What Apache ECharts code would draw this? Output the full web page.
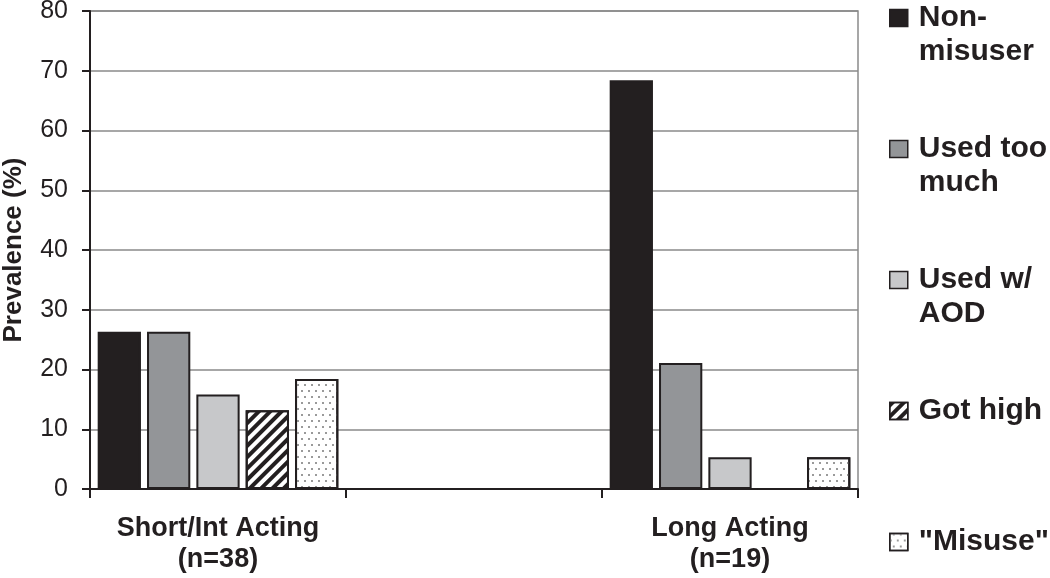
<!DOCTYPE html>
<html>
<head>
<meta charset="utf-8">
<script src="https://cdn.jsdelivr.net/npm/echarts@6/dist/echarts.min.js"></script>
<style>
  html, body { margin: 0; padding: 0; background: #fff; }
  #chart { width: 1050px; height: 578px; }
</style>
</head>
<body>
<div id="chart"></div>
<script>
  // data (percent of n)
  var categories = ['Short/Int Acting\n(n=38)', '', 'Long Acting\n(n=19)'];
  var seriesNames = ['Non-misuser', 'Used too much', 'Used w/ AOD', 'Got high', '"Misuse"'];
  var legendLabels = ['Non-\nmisuser', 'Used too\nmuch', 'Used w/\nAOD', 'Got high', '"Misuse"'];
  var nonMisuser = [26.3, null, 68.4];
  var usedTooMuch = [26.3, null, 21.1];
  var usedWithAod = [15.8, null, 5.3];
  var gotHigh = [13.2, null, 0];
  var misuse = [18.4, null, 5.3];
  var yMin = 0, yMax = 80, yStep = 10;

  var font = "'Liberation Sans', Arial, sans-serif";
  var ink = '#231f20';
  var gridGray = '#8a8a8a';

  var styles = [
    {color: ink},
    {color: '#939598'},
    {color: '#c7c8ca'},
    {color: '#ffffff', decal: {symbol: 'rect', dashArrayX: [1, 0], dashArrayY: [3.5, 3.5], rotation: -Math.PI / 4, color: ink}},
    {color: '#ffffff', decal: {symbol: 'rect', symbolSize: 1, dashArrayX: [[2, 5], [0, 3, 2, 2]], dashArrayY: [2, 4], color: '#9a9a9a'}}
  ];
  var values = [nonMisuser, usedTooMuch, usedWithAod, gotHigh, misuse];

  var series = seriesNames.map(function (name, i) {
    var st = styles[i];
    var itemStyle = {color: st.color, borderColor: ink, borderWidth: 2};
    if (st.decal) itemStyle.decal = st.decal;
    return {
      name: name,
      type: 'bar',
      data: values[i],
      barGap: '14%',
      barCategoryGap: '6%',
      itemStyle: itemStyle,
      emphasis: {disabled: true},
      animation: false
    };
  });

  var chart = echarts.init(document.getElementById('chart'));
  chart.setOption({
    backgroundColor: '#fff',
    animation: false,
    grid: {
      left: 90, right: 192, top: 11, bottom: 89,
      outerBoundsMode: 'none',
      containLabel: false,
      show: true, borderColor: gridGray, borderWidth: 1.5
    },
    legend: {
      orient: 'vertical',
      left: 889,
      top: -33,
      height: 700,
      padding: 0,
      itemGap: 29,
      itemWidth: 18,
      itemHeight: 17,
      icon: 'rect',
      selectedMode: false,
      data: seriesNames,
      // empty first line keeps the icon beside the first text line
      formatter: function (name) {
        var t = legendLabels[seriesNames.indexOf(name)];
        return t.indexOf('\n') >= 0 ? '\n' + t : '\n' + t + '\n ';
      },
      itemStyle: {borderColor: ink, borderWidth: 1.5},
      textStyle: {fontFamily: font, fontSize: 30, fontWeight: 'bold', color: ink, lineHeight: 34, padding: [0, 0, 0, 6]}
    },
    xAxis: {
      type: 'category',
      data: categories,
      axisLine: {lineStyle: {color: ink, width: 2}},
      axisTick: {show: true, length: 9, lineStyle: {color: ink, width: 2}},
      axisLabel: {
        fontFamily: font, fontSize: 27, fontWeight: 'bold', color: ink,
        lineHeight: 31, margin: 24, interval: 0
      },
      splitLine: {show: false}
    },
    yAxis: {
      type: 'value',
      min: yMin, max: yMax, interval: yStep,
      name: 'Prevalence (%)',
      nameLocation: 'middle',
      nameGap: 63,
      nameTextStyle: {fontFamily: font, fontSize: 26, fontWeight: 'bold', color: ink},
      axisLine: {show: true, lineStyle: {color: ink, width: 2}},
      axisTick: {show: true, length: 8, lineStyle: {color: ink, width: 2}},
      axisLabel: {fontFamily: font, fontSize: 25, color: ink, margin: 22},
      splitLine: {lineStyle: {color: gridGray, width: 1.5}}
    },
    series: series
  });
</script>
</body>
</html>
